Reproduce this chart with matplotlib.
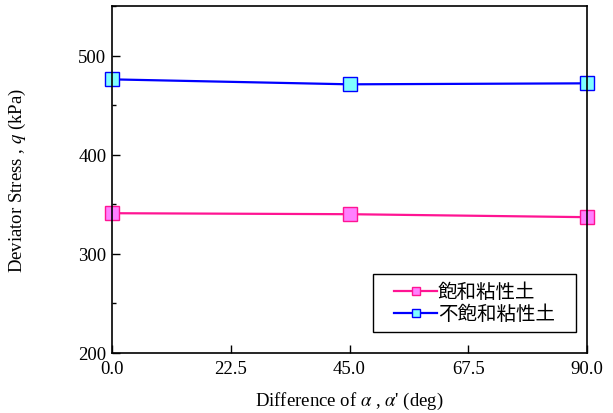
import matplotlib
matplotlib.use("Agg")
import matplotlib.pyplot as plt
from matplotlib.patches import Rectangle
from matplotlib.ticker import MultipleLocator

plt.rcParams["font.family"] = ["Liberation Serif", "DejaVu Serif"]
plt.rcParams["mathtext.fontset"] = "stix"

# data
angles = [0.0, 45.0, 90.0]
q_saturated = [341, 340, 337]
q_unsaturated = [476, 471, 472]
labels = ["飽和粘性土", "不飽和粘性土"]
x_ticks = [0.0, 22.5, 45.0, 67.5, 90.0]

fig = plt.figure(figsize=(6.13, 4.14), dpi=100)
ax = fig.add_axes([112 / 613, 1 - 354 / 414, 475 / 613, 347 / 414])

ax.plot(angles, q_saturated, color="#ff1493", lw=1.6, marker="s", ms=10,
        mfc="#ff80ff", mec="#ff1493", mew=1.0, clip_on=False, label=labels[0])
ax.plot(angles, q_unsaturated, color="#0000ff", lw=1.6, marker="s", ms=10,
        mfc="#80ffff", mec="#0000ff", mew=1.0, clip_on=False, label=labels[1])

ax.set_xlim(0, 90)
ax.set_ylim(200, 550)
ax.set_xticks(x_ticks)
ax.set_xticklabels([f"{v:.1f}" for v in x_ticks])
ax.yaxis.set_major_locator(MultipleLocator(100))
ax.yaxis.set_minor_locator(MultipleLocator(50))
ax.tick_params(direction="in", labelsize=13.5, length=6, width=1)
ax.tick_params(axis="x", pad=5)
ax.tick_params(axis="y", pad=4)
ax.tick_params(which="minor", direction="in", length=3, width=1)
for s in ax.spines.values():
    s.set_linewidth(1.2)

ax.set_xlabel(r"Difference of $\alpha$ , $\alpha$' (deg)", fontsize=13.5, labelpad=9)
ax.set_ylabel(r"Deviator Stress , $q$ (kPa)", fontsize=13.5, labelpad=36)

leg = ax.legend(loc="lower right", bbox_to_anchor=(0.949, 0.06),
                prop={"family": ["Noto Sans CJK JP"], "size": 14},
                frameon=False, handlelength=2.2, handletextpad=0.05,
                labelspacing=0.05, borderpad=0.4, borderaxespad=0,
                markerscale=0.6)
leg.set_zorder(5)

# legend frame with wider side padding than matplotlib allows
fig.canvas.draw()
bb = leg.get_window_extent()
side = 13
(x0, y0), (x1, y1) = fig.transFigure.inverted().transform(
    [(bb.x0 - side, bb.y0), (bb.x1 + side, bb.y1)])
frame = Rectangle((x0, y0), x1 - x0, y1 - y0, transform=fig.transFigure,
                  facecolor="white", edgecolor="black", lw=1.0,
                  zorder=4, clip_on=False)
ax.add_artist(frame)

fig.savefig("out.png", dpi=100)
